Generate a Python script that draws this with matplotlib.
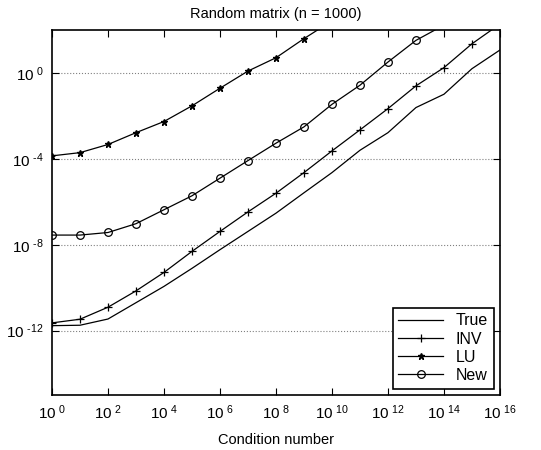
import numpy as np
import matplotlib
matplotlib.use("Agg")
import matplotlib.pyplot as plt

plt.rcParams['font.family'] = ['Liberation Sans', 'DejaVu Sans']
plt.rcParams['mathtext.fontset'] = 'custom'
plt.rcParams['mathtext.rm'] = 'Liberation Sans'

# exponent of condition number (10^k)
cond_exp = list(range(0, 17))

# log10 of errors
true_err = [-11.77, -11.75, -11.46, -10.7, -9.94, -9.10, -8.23, -7.38, -6.53,
            -5.58, -4.64, -3.60, -2.78, -1.61, -0.99, 0.20, 1.07]
inv_err = [-11.64, -11.47, -10.91, -10.15, -9.29, -8.31, -7.38, -6.47, -5.60,
           -4.64, -3.63, -2.65, -1.66, -0.60, 0.25, 1.36, 2.28]
lu_err = [-3.86, -3.71, -3.33, -2.78, -2.26, -1.53, -0.71, 0.09, 0.71,
          1.60, 2.43, 3.3, 4.2, 5.1, 6.0, 6.9, 7.8]
new_err = [-7.55, -7.55, -7.43, -7.02, -6.37, -5.72, -4.90, -4.08, -3.27,
           -2.51, -1.46, -0.57, 0.51, 1.52, 2.23, 3.1, 4.0]

x_ticks = list(range(0, 17, 2))
y_ticks = [-12, -8, -4, 0]


def exp_label(k):
    # "10" con esponente rialzato, trattino corto come nel grafico originale
    if k < 0:
        return r'$\mathregular{10^{\ \text{-}%d}}$' % (-k)
    return r'$\mathregular{10^{\ %d}}$' % k


x = 10.0 ** np.array(cond_exp)

fig = plt.figure(figsize=(5.41, 4.5), dpi=100)
ax = fig.add_axes([0.0961, 0.1222, 0.828, 0.811])

ax.plot(x, 10.0 ** np.array(true_err), color='black', lw=0.9, label='True')
ax.plot(x, 10.0 ** np.array(inv_err), color='black', lw=0.9, marker='+',
        ms=6, mew=0.9, label='INV')
ax.plot(x, 10.0 ** np.array(lu_err), color='black', lw=0.9, marker='*',
        ms=5, label='LU')
ax.plot(x, 10.0 ** np.array(new_err), color='black', lw=0.9, marker='o',
        ms=5.5, mfc='none', mew=0.9, label='New')

ax.set_xscale('log')
ax.set_yscale('log')
ax.set_xlim(1e0, 1e16)
ax.set_ylim(1e-15, 1e2)

ax.set_xticks([10.0 ** k for k in x_ticks])
ax.set_xticklabels([exp_label(k) for k in x_ticks])
ax.set_yticks([10.0 ** k for k in y_ticks])
ax.set_yticklabels([exp_label(k) for k in y_ticks])
ax.minorticks_off()

ax.tick_params(which='both', direction='in', top=True, right=True,
               length=5, width=0.8, labelsize=11, pad=6)
ax.yaxis.grid(True, linestyle=':', color='gray', lw=0.8)

for s in ax.spines.values():
    s.set_linewidth(1.2)

ax.set_title('Random matrix (n = 1000)', fontsize=10.5, pad=9)
ax.set_xlabel('Condition number', fontsize=10.5, labelpad=8)

leg = ax.legend(loc='lower right', fontsize=11.5, fancybox=False,
                edgecolor='black', framealpha=1, handlelength=2.8,
                borderaxespad=0.4, labelspacing=0.2, borderpad=0.35)
leg.get_frame().set_linewidth(1.2)

fig.savefig('out.png', dpi=100)
